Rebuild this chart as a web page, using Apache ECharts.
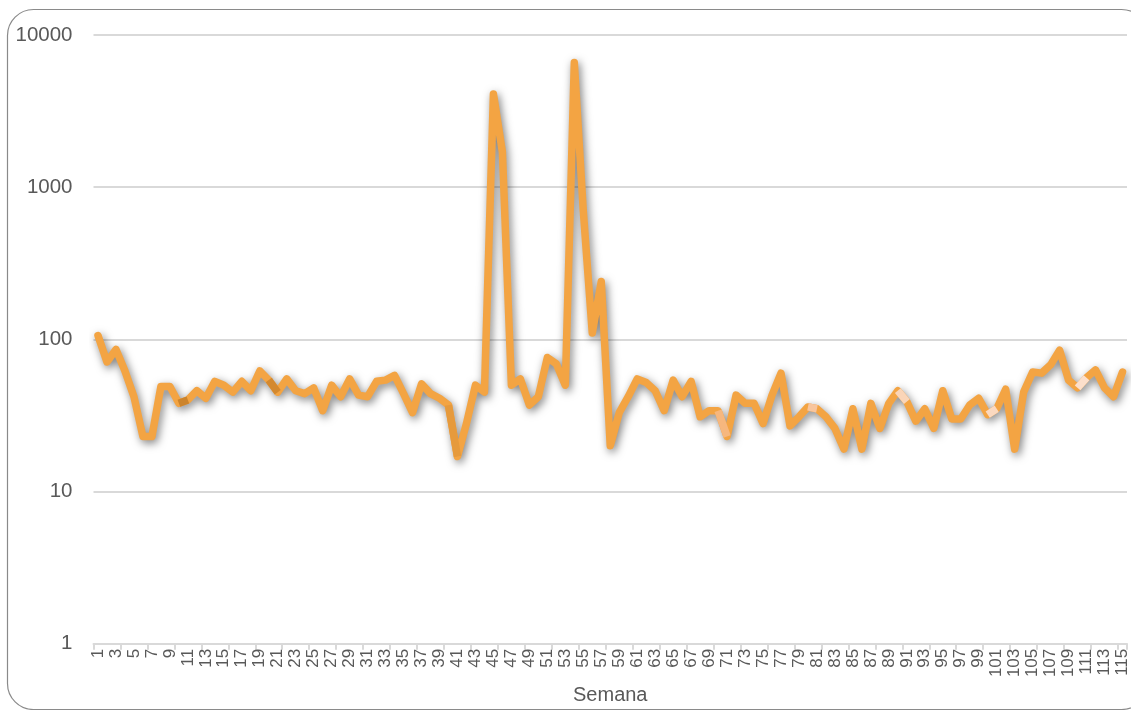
<!DOCTYPE html>
<html>
<head>
<meta charset="utf-8">
<script src="https://cdn.jsdelivr.net/npm/echarts@6/dist/echarts.min.js"></script>
<style>
html,body{margin:0;padding:0;background:#fff;}
#c{width:1131px;height:710px;}
</style>
</head>
<body>
<div id="c"></div>
<script>
var semanas = [];
for (var k = 1; k <= 115; k++) semanas.push(String(k));

var valores = [
  106, 71, 86, 62, 42, 23, 23, 49, 49, 38,
  40, 46, 41, 53, 50, 45, 53, 46, 62, 54,
  45, 55, 46, 44, 48, 34, 50, 42, 55, 43,
  42, 53, 54, 58, 44, 33, 51, 44, 41, 37,
  17, 28, 50, 45, 4100, 1700, 50, 55, 37, 42,
  76, 69, 50, 6600, 700, 110, 240, 20, 33, 42,
  55, 52, 46, 34, 54, 42, 53, 31, 34, 34,
  23, 43, 38, 38, 28, 43, 60, 27, 31, 36,
  35, 31, 26, 19, 35, 19, 38, 26, 38, 46,
  39, 29, 35, 26, 46, 30, 30, 37, 41, 32,
  35, 47, 19, 45, 61, 60, 68, 85, 54, 48,
  56, 63, 48, 42, 61
];

var ejeY = [1, 10, 100, 1000, 10000];
var tituloX = 'Semana';

// semanas where a differently-shaded segment (to the next semana) shows through
var tramosSemana = [10, 20, 40, 70, 80, 90, 100, 110];
var tramosColor = ['#CC842C', '#D4892F', '#E69A3C', '#F6B77E', '#F8C59D', '#FAD5B8', '#FBD9C0', '#FCDFCB'];

var series = [{
  type: 'line',
  data: valores,
  symbol: 'none',
  smooth: false,
  z: 2,
  lineStyle: {
    color: '#F3A443',
    width: 7.5,
    cap: 'round',
    join: 'round',
    shadowColor: 'rgba(0,0,0,0.5)',
    shadowBlur: 8,
    shadowOffsetX: 2,
    shadowOffsetY: 3
  }
}];
tramosSemana.forEach(function (s, j) {
  var d = valores.map(function () { return null; });
  d[s - 1] = valores[s - 1];
  d[s] = valores[s];
  series.push({
    type: 'line',
    data: d,
    symbol: 'none',
    connectNulls: false,
    z: 3,
    lineStyle: {color: tramosColor[j], width: 7.5, cap: 'butt'}
  });
});

var chart = echarts.init(document.getElementById('c'), null, {renderer: 'canvas'});
chart.setOption({
  animation: false,
  backgroundColor: '#ffffff',
  graphic: [{
    type: 'rect',
    silent: true,
    shape: {x: 7.5, y: 9.5, width: 1140, height: 700, r: 26},
    style: {fill: 'none', stroke: '#8a8a8a', lineWidth: 1.2},
    z: -1
  }],
  grid: {left: 93.5, right: 2.5, top: 35, bottom: 60, containLabel: false},
  xAxis: {
    type: 'category',
    data: semanas,
    boundaryGap: true,
    name: tituloX,
    nameLocation: 'middle',
    nameGap: 41,
    nameTextStyle: {color: '#595959', fontSize: 20, fontFamily: 'Liberation Sans'},
    axisLine: {show: true, lineStyle: {color: '#d9d9d9', width: 2}},
    axisTick: {show: true, interval: 2, length: 6, lineStyle: {color: '#d9d9d9', width: 2}},
    axisLabel: {
      interval: 1,
      rotate: 90,
      margin: 5,
      color: '#595959',
      fontSize: 17,
      fontFamily: 'Liberation Sans'
    },
    splitLine: {show: false}
  },
  yAxis: {
    type: 'log',
    logBase: 10,
    min: ejeY[0],
    max: ejeY[ejeY.length - 1],
    axisLine: {show: false},
    axisTick: {show: false},
    axisLabel: {
      margin: 21,
      color: '#595959',
      fontSize: 20.5,
      fontFamily: 'Liberation Sans',
      formatter: function (v) { return String(Math.round(v)); }
    },
    splitLine: {show: true, lineStyle: {color: '#d9d9d9', width: 2}}
  },
  series: series
});
</script>
</body>
</html>
